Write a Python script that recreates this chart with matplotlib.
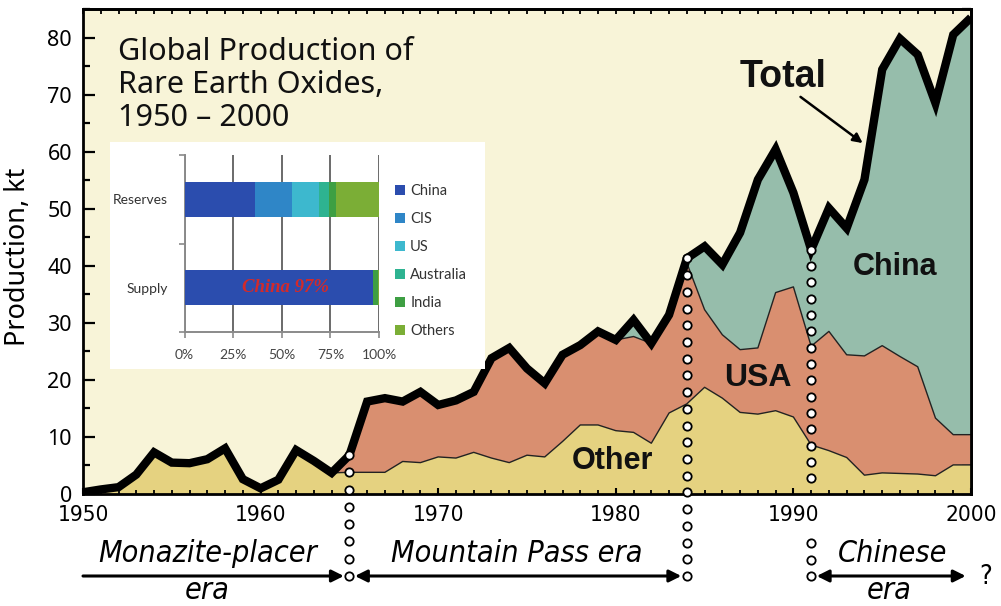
import numpy as np
import matplotlib
matplotlib.use('Agg')
import matplotlib.pyplot as plt
from matplotlib import font_manager as fm
from matplotlib.patches import Rectangle
from matplotlib.ticker import MultipleLocator

# ---------------- data ----------------
years = np.arange(1950, 2001)
other = [0.3, 0.8, 1.2, 3.4, 7.3, 5.5, 5.4, 6.1, 8.0, 2.6, 1.0, 2.5, 7.7, 5.8, 3.7,
         3.8, 3.8, 3.8, 5.7, 5.5, 6.5, 6.3, 7.3, 6.3, 5.5, 6.8, 6.5, 9.2, 12.1, 12.1,
         11.1, 10.8, 8.9, 14.2, 15.8,
         18.7, 16.8, 14.3, 14.0, 14.6, 13.5, 8.6, 7.6, 6.4, 3.3, 3.7, 3.6, 3.5, 3.2, 5.1, 5.1]
usa = [0.0] * 15 + \
      [3.0, 12.4, 13.0, 10.5, 12.4, 9.1, 10.1, 10.6, 17.5, 20.1, 15.2, 12.9, 15.2, 14.0,
       16.4, 15.9, 16.8, 17.5, 17.2, 24.7,
       13.6, 11.1, 11.0, 11.6, 20.7, 22.8, 17.3, 20.9, 18.0, 20.9, 22.3, 20.5, 18.8,
       10.1, 5.3, 5.3]
china = [0.0] * 15 + [0.0] * 16 + [2.9, 0.0, 0.0, 0.8] + \
        [11.1, 12.3, 20.5, 29.5, 25.1, 16.5, 16.9, 21.6, 22.2, 30.9, 48.4, 55.7, 54.7,
         55.2, 70.1, 73.1]
era_years = [1965, 1984, 1991]

inset_categories = ['Supply', 'Reserves']
inset_regions = ['China', 'CIS', 'US', 'Australia', 'India', 'Others']
supply_share = [97.0, 0.0, 0.0, 0.0, 2.3, 0.7]
reserves_share = [36.0, 19.5, 13.5, 5.5, 3.5, 22.0]
region_colors = ['#2B4DAE', '#2F86C7', '#3DB8CE', '#2EB391', '#3E9F43', '#7BAE36']

# ---------------- style ----------------
C_BG = '#F8F4D8'
C_OTHER = '#E5D280'
C_USA = '#D98F70'
C_CHINA = '#96BDAB'
SANS = ['Noto Sans', 'DejaVu Sans']
BOLD = ['Liberation Sans', 'DejaVu Sans']

_ttf = fm.fontManager.ttflist
_names = {f.name for f in _ttf}
if 'Liberation Sans Narrow' in _names:
    NARROW = dict(family='Liberation Sans Narrow')
    NS = 1.0
elif any(f.name == 'DejaVu Sans' and str(f.stretch) == 'condensed' for f in _ttf):
    NARROW = dict(family='DejaVu Sans', fontstretch='condensed')
    NS = 0.80
else:
    NARROW = dict(family='Liberation Sans')
    NS = 0.82


def narrow(txt):
    txt.set_family(NARROW['family'])
    if 'fontstretch' in NARROW:
        txt.set_stretch(NARROW['fontstretch'])


other = np.array(other)
usa = np.array(usa)
china = np.array(china)
total = other + usa + china

W, H = 1001, 606
fig = plt.figure(figsize=(W / 100, H / 100), dpi=100)
fig.patch.set_facecolor('white')


def fx(px):
    return px / W


def fy(py):
    return 1 - py / H


def dy(py):
    # pixel row -> data value on the main axis (0 at 494 px, 85 at 9 px)
    return (494 - py) / (485 / 85)


ax = fig.add_axes([fx(83), fy(494), fx(971) - fx(83), fy(9) - fy(494)])
ax.set_facecolor(C_BG)
ax.set_xlim(1950, 2000)
ax.set_ylim(0, 85)

ax.stackplot(years, other, usa, china, colors=[C_OTHER, C_USA, C_CHINA], lw=0, zorder=1)
ax.plot(years, other, color='#222222', lw=1.0, zorder=2)
ax.plot(years, other + usa, color='#222222', lw=1.0, zorder=2)
ax.plot(years, total, color='black', lw=6.0, zorder=4, solid_joinstyle='miter',
        solid_capstyle='butt')

for s in ax.spines.values():
    s.set_linewidth(2.0)

ax.yaxis.set_major_locator(MultipleLocator(10))
ax.yaxis.set_minor_locator(MultipleLocator(5))
ax.xaxis.set_major_locator(MultipleLocator(10))
ax.xaxis.set_minor_locator(MultipleLocator(1))
ax.tick_params(axis='y', which='major', direction='in', length=8.6, width=1.6, pad=8,
               labelsize=15.5)
ax.tick_params(axis='y', which='minor', direction='in', length=5, width=1.6)
ax.tick_params(axis='x', which='major', direction='in', length=4.3, width=1.5, pad=8,
               labelsize=18 * (NS + 1) / 2)
ax.tick_params(axis='x', which='minor', direction='in', length=2.6, width=1.3)
for lab in ax.get_yticklabels():
    lab.set_family(SANS)
for lab in ax.get_xticklabels():
    narrow(lab)

secy = ax.secondary_yaxis('right')
secy.yaxis.set_major_locator(MultipleLocator(5))
secy.tick_params(direction='in', length=6.5, width=1.6, labelright=False)
secy.spines['right'].set_linewidth(2.0)
secx = ax.secondary_xaxis('top')
secx.xaxis.set_major_locator(MultipleLocator(1))
secx.tick_params(direction='in', length=3.4, width=1.3, labeltop=False)
secx.spines['top'].set_linewidth(2.0)

ax.set_ylabel('Production, kt', family=SANS, fontsize=19.5)
ax.yaxis.set_label_coords(fx(25) - fx(83), 0.49)

# ---------------- era separators ----------------
y_arrow = dy(576)
for yr in era_years:
    i = int(np.where(years == yr)[0][0])
    top = total[i]
    n = int(round((top - y_arrow) / 2.93)) + 1
    ys = np.linspace(top, y_arrow, n)
    if yr == era_years[2]:
        ys = ys[(ys > 0) | (ys < dy(540))]
    ax.plot(np.full(len(ys), yr), ys, ls='none', marker='o', ms=6, mfc='white',
            mec='black', mew=1.3, clip_on=False, zorder=6)

akw = dict(xycoords='data', textcoords='data', annotation_clip=False)
ax.annotate('', xy=(era_years[0], y_arrow), xytext=(1950, y_arrow),
            arrowprops=dict(arrowstyle='-|>', lw=2.2, color='black', mutation_scale=18,
                            shrinkA=0, shrinkB=4), **akw)
ax.annotate('', xy=(era_years[1], y_arrow), xytext=(era_years[0], y_arrow),
            arrowprops=dict(arrowstyle='<|-|>', lw=2.2, color='black', mutation_scale=18,
                            shrinkA=4, shrinkB=4), **akw)
ax.annotate('', xy=(1999.7, y_arrow), xytext=(era_years[2], y_arrow),
            arrowprops=dict(arrowstyle='<|-|>', lw=2.2, color='black', mutation_scale=18,
                            shrinkA=4, shrinkB=0), **akw)
q = ax.text(2000.85, dy(584), '?', fontsize=24 * NS, ha='center', va='baseline',
            clip_on=False)
narrow(q)

ital = dict(style='italic', fontsize=27.4 * NS, ha='center', va='baseline', clip_on=False)
era_texts = [
    ax.text(1957.0, dy(562), 'Monazite-placer', **ital),
    ax.text(1957.0, dy(599), 'era', **ital),
    ax.text(1974.4, dy(562), 'Mountain Pass era', **ital),
    ax.text(1995.6, dy(562), 'Chinese', **ital),
    ax.text(1995.4, dy(599), 'era', **ital),
]
for t in era_texts:
    narrow(t)

# ---------------- series labels ----------------
bold = dict(family=BOLD, weight='bold', ha='center', va='center', color='#111111', zorder=7)
ax.text(1989.4, 73.0, 'Total', fontsize=27, **bold)
ax.text(1995.7, 39.8, 'China', fontsize=22, **bold)
ax.text(1988.0, 20.4, 'USA', fontsize=23, **bold)
ax.text(1979.8, 5.8, 'Other', fontsize=22, **bold)
ax.annotate('', xy=(1993.9, 61.5), xytext=(1990.4, 69.6),
            arrowprops=dict(arrowstyle='-|>', lw=1.8, color='black', mutation_scale=14,
                            shrinkA=0, shrinkB=0), zorder=7)

# ---------------- title ----------------
tkw = dict(family=SANS, fontsize=22, color='#111111', ha='left', va='baseline')
fig.text(fx(118), fy(60), 'Global Production of', **tkw)
fig.text(fx(118), fy(93), 'Rare Earth Oxides,', **tkw)
fig.text(fx(118), fy(126), '1950 \u2013 2000', **tkw)

# ---------------- inset ----------------
fig.patches.append(Rectangle((fx(110), fy(369)), fx(485) - fx(110), fy(142) - fy(369),
                             transform=fig.transFigure, facecolor='white',
                             edgecolor='none', zorder=2))
iax = fig.add_axes([fx(184.5), fy(332), fx(379) - fx(184.5), fy(155) - fy(332)], zorder=5)
iax.set_facecolor('white')
shares = np.array([supply_share, reserves_share])
ypos = np.arange(len(inset_categories))
left = np.zeros(len(inset_categories))
for k, reg in enumerate(inset_regions):
    iax.barh(ypos, shares[:, k], left=left, height=0.40, color=region_colors[k],
             label=reg, zorder=3)
    left = left + shares[:, k]
iax.set_xlim(0, 100)
iax.set_ylim(-0.5, 1.5)
iax.set_xticks([0, 25, 50, 75, 100])
iax.set_xticklabels(['0%', '25%', '50%', '75%', '100%'])
iax.set_yticks(ypos)
iax.set_yticklabels(inset_categories)
iax.set_yticks([-0.5, 0.5, 1.5], minor=True)
iax.grid(axis='x', color='#6a6a6a', lw=1.4, zorder=0)
for s in ['top', 'right']:
    iax.spines[s].set_visible(False)
for s in ['left', 'bottom']:
    iax.spines[s].set_color('#8a8a8a')
    iax.spines[s].set_linewidth(1.4)
iax.tick_params(axis='y', which='major', length=0, pad=12, labelsize=10,
                labelcolor='#333333')
iax.tick_params(axis='y', which='minor', length=4, color='#8a8a8a', width=1.2)
iax.tick_params(axis='x', length=4, color='#8a8a8a', width=1.2, pad=8, labelsize=10,
                labelcolor='#444444')
for lab in iax.get_xticklabels() + iax.get_yticklabels():
    lab.set_family(['Lato', 'DejaVu Sans'])
iax.text(52, 0, 'China 97%', family=['Liberation Serif', 'DejaVu Serif'], style='italic',
         weight='bold', fontsize=13.5, color='#D32A2A', ha='center', va='center', zorder=4)
handles, labels = iax.get_legend_handles_labels()
leg = iax.legend(handles, labels, loc='upper left',
                 bbox_to_anchor=(fx(389), fy(178)), bbox_transform=fig.transFigure,
                 frameon=False, fontsize=10.5, handlelength=0.7, handleheight=0.7,
                 handletextpad=0.35, labelspacing=0.96, borderaxespad=0)
for t in leg.get_texts():
    t.set_family(['Lato', 'DejaVu Sans'])
    t.set_color('#333333')

fig.savefig('out.png', dpi=100, facecolor='white')
